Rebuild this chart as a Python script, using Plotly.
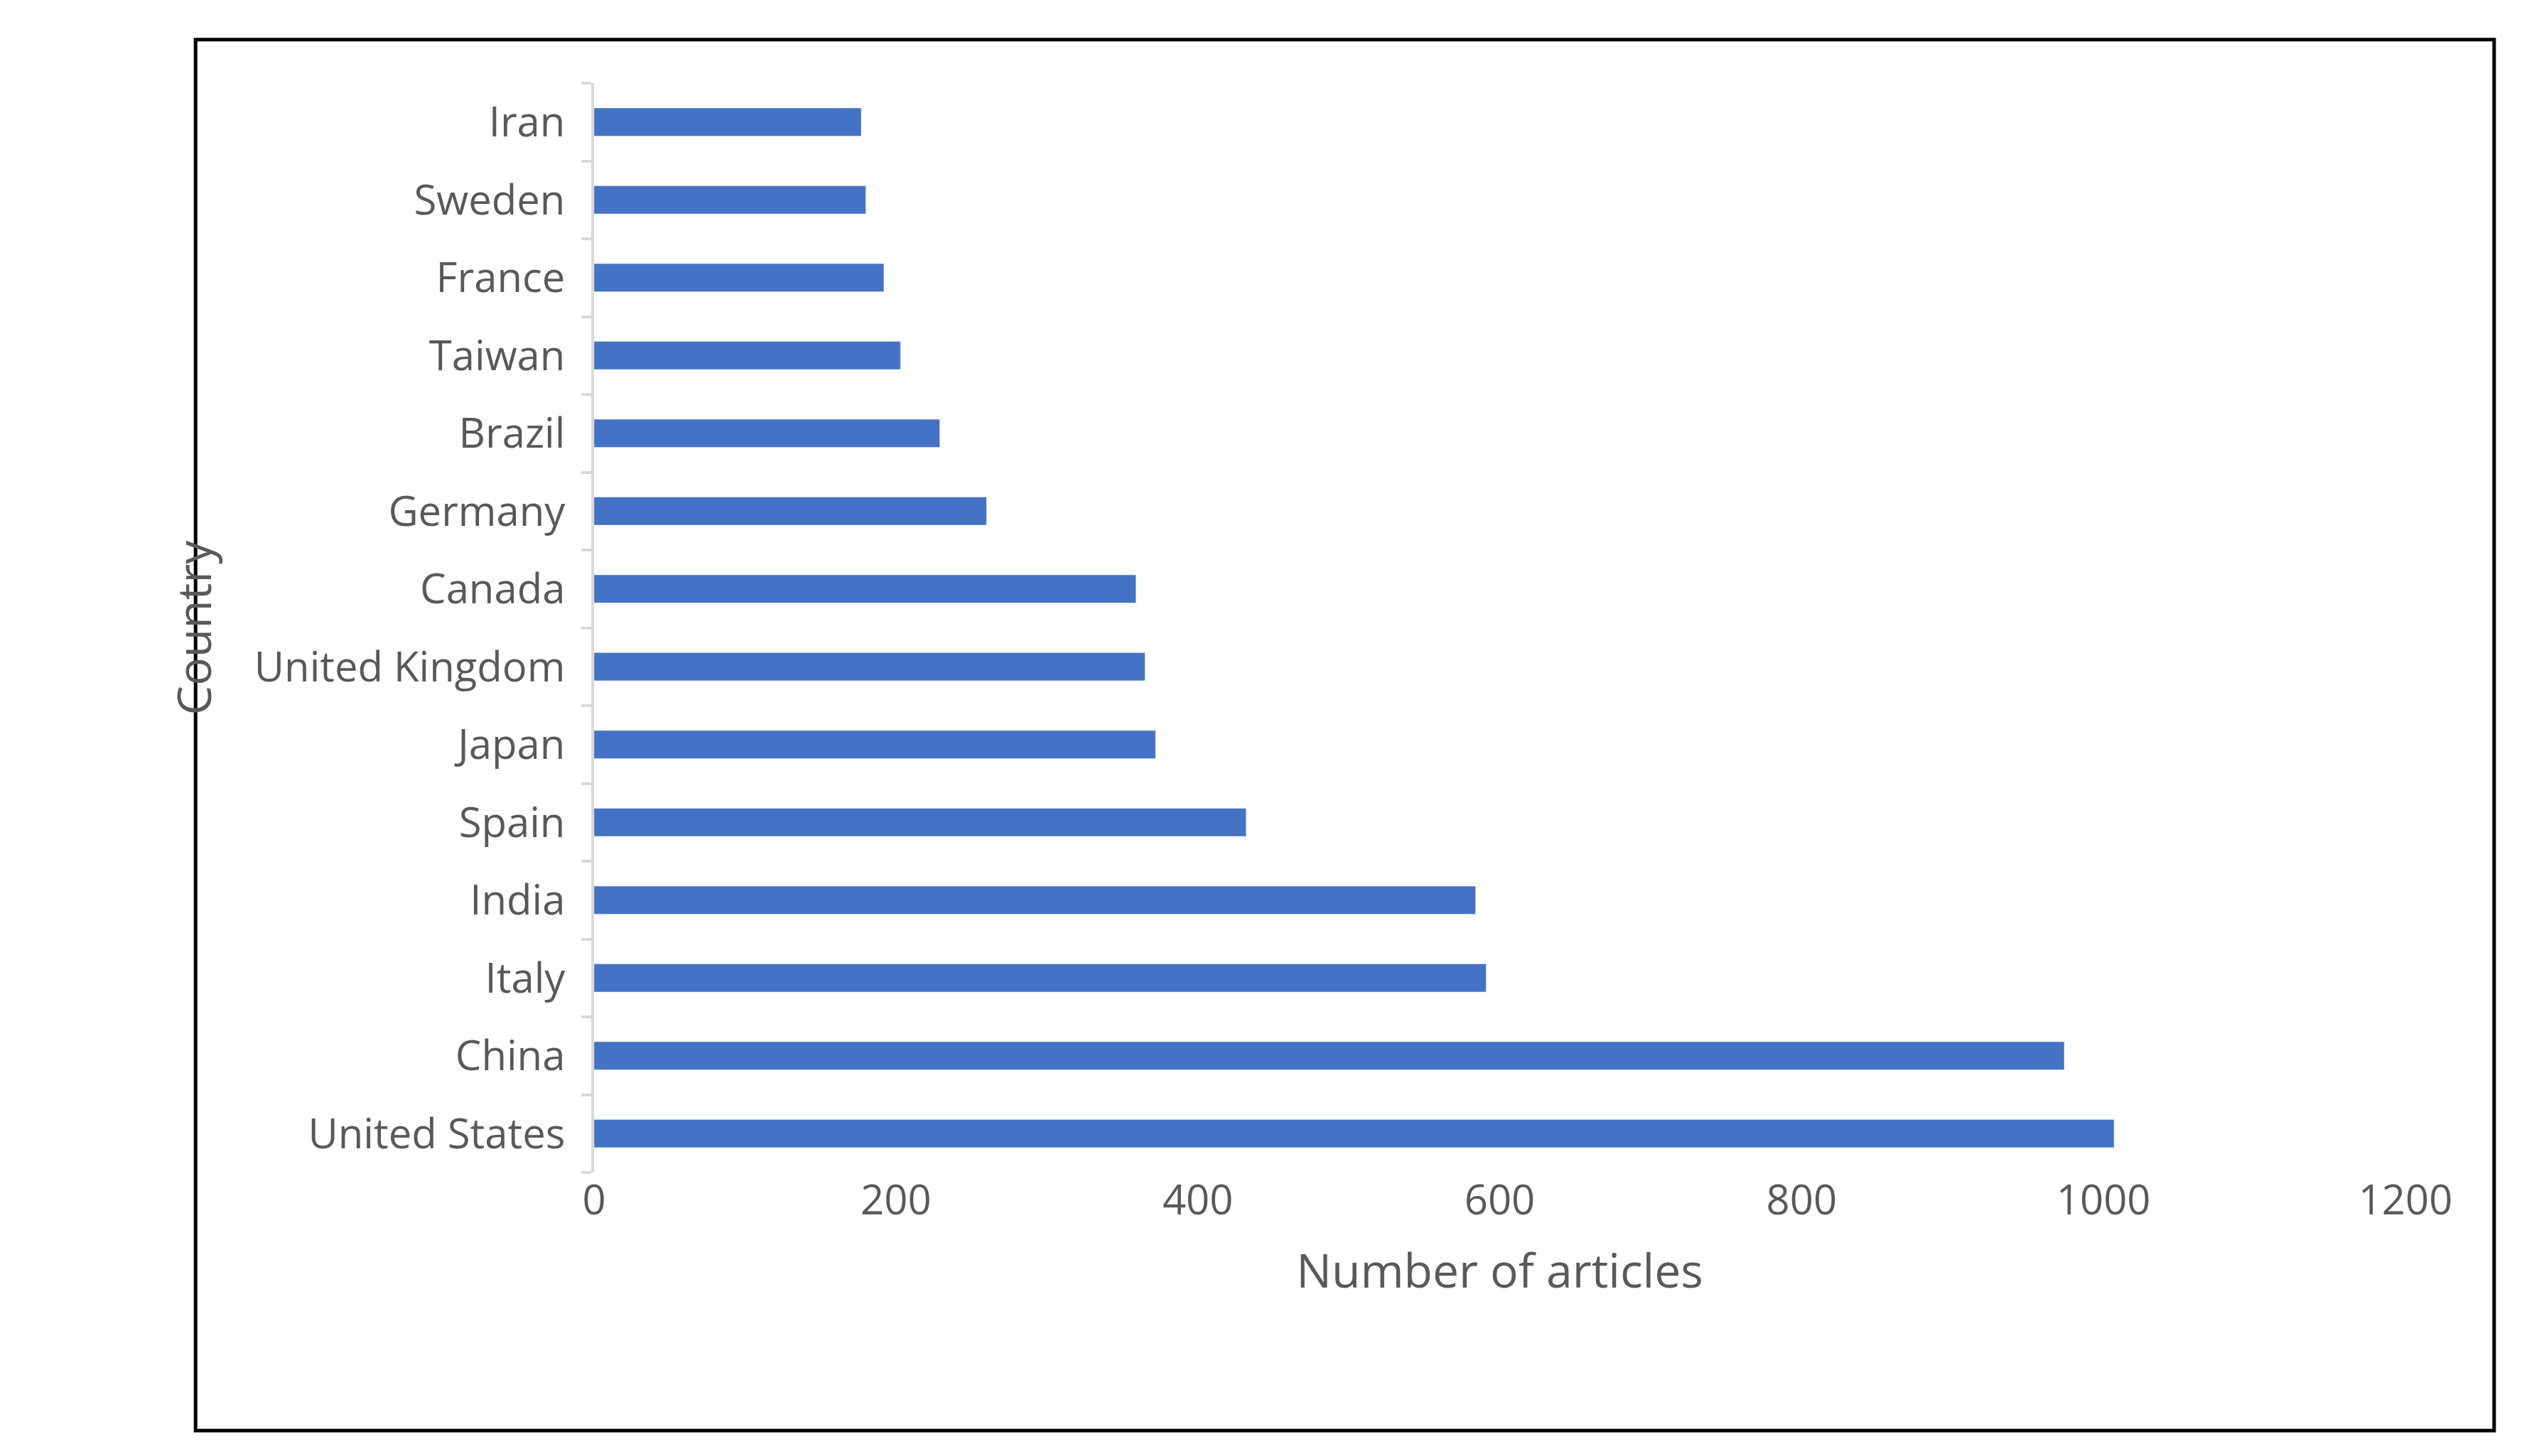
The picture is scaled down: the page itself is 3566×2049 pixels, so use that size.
import plotly.graph_objects as go

countries = ["United States", "China", "Italy", "India", "Spain", "Japan", "United Kingdom",
             "Canada", "Germany", "Brazil", "Taiwan", "France", "Sweden", "Iran"]
articles = [1007, 974, 591, 584, 432, 372, 365, 359, 260, 229, 203, 192, 180, 177]
xticks = [0, 200, 400, 600, 800, 1000, 1200]

pos = list(range(len(countries)))
fig = go.Figure(go.Bar(x=articles, y=pos, orientation="h", marker_color="#4472C4", width=0.36))

font = "Open Sans, Noto Sans, sans-serif"
fig.update_layout(
    width=3566, height=2049, paper_bgcolor="white", plot_bgcolor="white",
    margin=dict(l=828, r=189, t=109, b=407),
    font=dict(family=font, size=58, color="#595959"),
    showlegend=False,
    xaxis=dict(range=[0, 1200], tickvals=xticks, showgrid=False, zeroline=False,
               showline=False, ticks="", title=dict(text="Number of articles", font=dict(size=66), standoff=40)),
    yaxis=dict(range=[-0.5, 13.5], tickvals=pos, ticktext=countries, showgrid=False, zeroline=False,
               showline=True, linecolor="#D9D9D9", linewidth=4, ticks="", ticklabelstandoff=25,
               minor=dict(tick0=0.5, dtick=1, ticks="outside", ticklen=14, tickcolor="#D9D9D9", tickwidth=4),
               title=dict(text="Country", font=dict(size=66), standoff=40)),
    shapes=[dict(type="rect", xref="paper", yref="paper", x0=-0.22, x1=1.049, y0=-0.237, y1=1.04,
                 line=dict(color="black", width=5))],
)
fig.write_html("out.html")
